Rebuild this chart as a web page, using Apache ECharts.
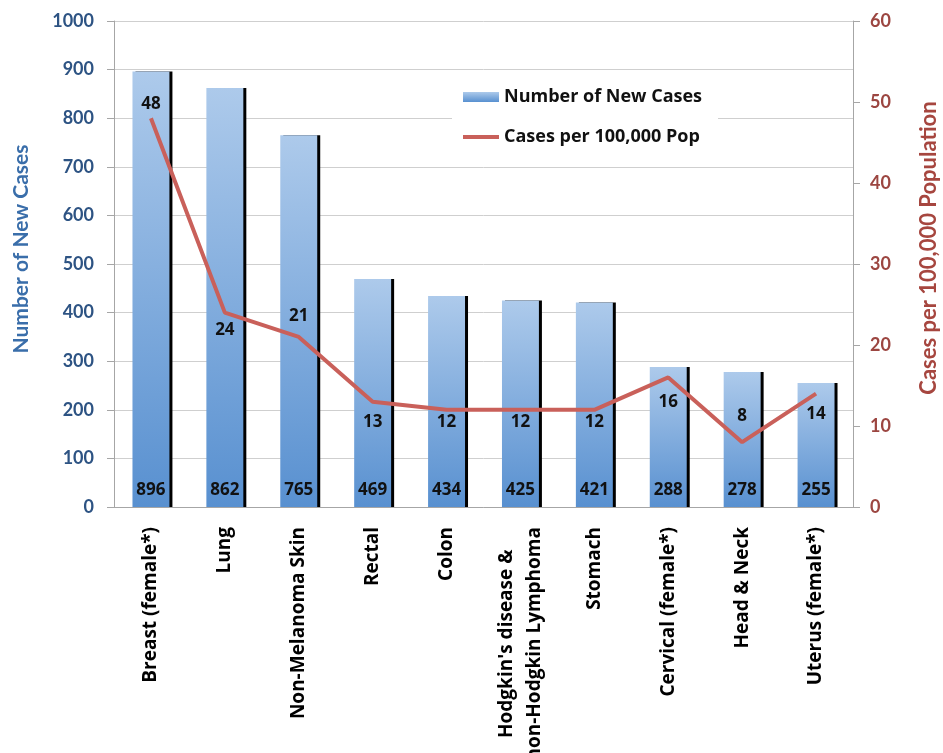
<!DOCTYPE html>
<html>
<head>
<meta charset="utf-8">
<script src="https://cdn.jsdelivr.net/npm/echarts@6/dist/echarts.min.js"></script>
<style>
  html, body { margin: 0; padding: 0; background: #fff; }
  #chart { width: 943px; height: 753px; }
</style>
</head>
<body>
<div id="chart"></div>
<script>
// 数据
const categories = [
  'Breast (female*)', 'Lung', 'Non-Melanoma Skin', 'Rectal', 'Colon',
  "Hodgkin's disease &\nnon-Hodgkin Lymphoma", 'Stomach', 'Cervical (female*)',
  'Head & Neck', 'Uterus (female*)'
]
const newCases = [896, 862, 765, 469, 434, 425, 421, 288, 278, 255]
const casesPer100k = [48, 24, 21, 13, 12, 12, 12, 16, 8, 14]

// 折线标签的垂直偏移
const lineLabelOffsets = [-14, 18, -21, 20, 12, 12, 12, 25, -26, 21]

const font = 'Lato, "Open Sans", sans-serif'
const labelFont = '"Open Sans", Lato, sans-serif'

const chart = echarts.init(document.getElementById('chart'))

const option = {
  animation: false,
  textStyle: { fontFamily: font },
  grid: { left: 114, right: 90, top: 21, bottom: 246, containLabel: false, outerBoundsMode: 'none' },
  legend: {
    orient: 'vertical',
    left: 452,
    top: 82,
    itemWidth: 36,
    itemHeight: 10,
    itemGap: 22,
    padding: [6, 16, 6, 9],
    backgroundColor: '#fff',
    textStyle: { fontFamily: labelFont, fontSize: 18, fontWeight: 'bold', color: '#111' },
    data: [
      { name: 'Number of New Cases', icon: 'rect' },
      { name: 'Cases per 100,000 Pop', lineStyle: { width: 4 } }
    ]
  },
  xAxis: {
    type: 'category',
    data: categories,
    axisLine: { lineStyle: { color: '#a6a6a6' } },
    axisTick: { length: 7, lineStyle: { color: '#a6a6a6' } },
    axisLabel: {
      rotate: 90,
      interval: 0,
      margin: 20,
      color: '#000',
      formatter: (v) => v.split('\n').map(s => '{c|' + s + '}').join('\n'),
      rich: {
        c: {
          fontFamily: labelFont,
          fontSize: 19,
          fontWeight: 'bold',
          color: '#000',
          lineHeight: 28,
          align: 'center'
        }
      }
    }
  },
  yAxis: [
    {
      type: 'value',
      min: 0,
      max: 1000,
      interval: 100,
      name: 'Number of New Cases',
      nameLocation: 'middle',
      nameRotate: 90,
      nameGap: 82,
      nameTextStyle: { fontSize: 21, fontWeight: 'bold', color: '#3a6eaa', padding: [0, 0, 0, 30] },
      axisLine: { show: true, lineStyle: { color: '#a6a6a6' } },
      axisTick: { show: true, length: 7, lineStyle: { color: '#a6a6a6' } },
      axisLabel: {
        margin: 20,
        fontSize: 18,
        fontWeight: 'bold',
        color: '#2d5383',
        formatter: (v) => String(v)
      },
      splitLine: { lineStyle: { color: '#cfcfcf' } }
    },
    {
      type: 'value',
      min: 0,
      max: 60,
      interval: 10,
      name: 'Cases per 100,000 Population',
      nameLocation: 'middle',
      nameRotate: 90,
      nameGap: 65,
      nameTextStyle: { fontSize: 22, fontWeight: 'bold', color: '#a6463f', padding: [0, 0, 0, 32] },
      axisLine: { show: true, lineStyle: { color: '#a6a6a6' } },
      axisTick: { show: true, length: 7, lineStyle: { color: '#a6a6a6' } },
      axisLabel: { margin: 17, fontSize: 18, fontWeight: 'bold', color: '#9c4641' },
      splitLine: { show: false }
    }
  ],
  series: [
    {
      name: 'Number of New Cases',
      type: 'bar',
      data: newCases,
      barWidth: '50%',
      itemStyle: {
        color: new echarts.graphic.LinearGradient(0, 0, 0, 1, [
          { offset: 0, color: '#adcaeb' },
          { offset: 1, color: '#5890d0' }
        ]),
        shadowColor: '#000',
        shadowOffsetX: 3,
        shadowOffsetY: 0,
        shadowBlur: 0
      },
      label: {
        show: true,
        position: 'insideBottom',
        distance: 8,
        fontFamily: labelFont,
        fontSize: 17,
        fontWeight: 'bold',
        color: '#111'
      }
    },
    {
      name: 'Cases per 100,000 Pop',
      type: 'line',
      yAxisIndex: 1,
      symbol: 'circle',
      symbolSize: 1,
      showSymbol: true,
      data: casesPer100k.map((v, i) => ({
        value: v,
        label: { offset: [0, lineLabelOffsets[i]] }
      })),
      lineStyle: { color: '#c9605a', width: 4 },
      itemStyle: { color: 'rgba(0,0,0,0)' },
      label: {
        show: true,
        position: 'inside',
        fontFamily: labelFont,
        fontSize: 17,
        fontWeight: 'bold',
        color: '#111'
      },
      z: 3
    }
  ]
}

chart.setOption(option)
</script>
</body>
</html>
